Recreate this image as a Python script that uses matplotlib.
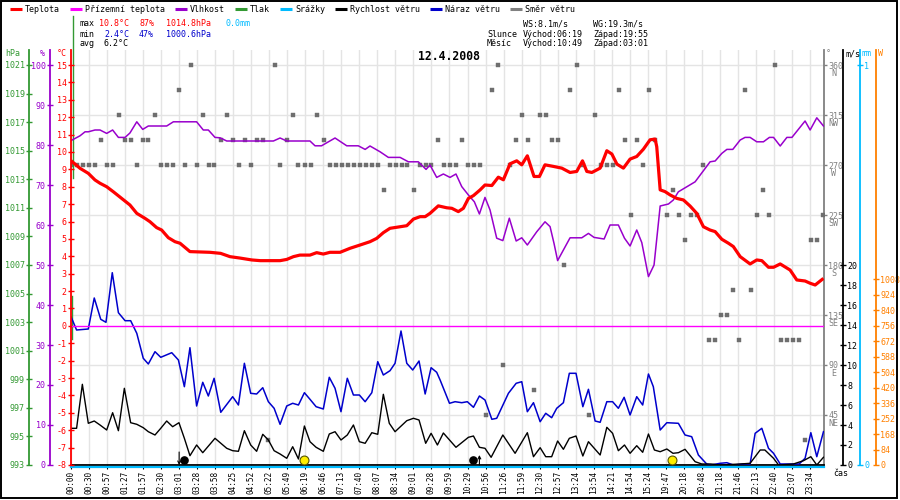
import numpy as np
import matplotlib
matplotlib.use('Agg')
import matplotlib.pyplot as plt
from matplotlib.lines import Line2D
from matplotlib.patches import Rectangle
from matplotlib.transforms import blended_transform_factory, offset_copy, ScaledTranslation

plt.rcParams['font.family'] = ['DejaVu Sans Mono', 'DejaVu Sans']
plt.rcParams['font.size'] = 6

# ---------------- data ----------------
cas_labels = ['00:00', '00:30', '00:57', '01:27', '01:57', '02:30', '03:01', '03:28', '03:58',
              '04:25', '04:52', '05:22', '05:49', '06:19', '06:46', '07:13', '07:40', '08:07',
              '08:34', '09:01', '09:28', '09:59', '10:29', '10:56', '11:26', '11:59', '12:30',
              '12:57', '13:24', '13:54', '14:21', '14:54', '15:24', '19:47', '20:18', '20:48',
              '21:18', '21:46', '22:13', '22:40', '23:07', '23:34']

teplota_x = [0, 0.5, 0.96, 1.33, 1.61, 1.98, 2.35, 2.81, 3.27, 3.65, 4.11, 4.38, 4.75, 5.03, 5.4,
             5.77, 6.05, 6.6, 7.71, 8.3, 8.82, 9.37, 10.03, 10.5, 11.6, 11.97, 12.34, 12.7, 13.26,
             13.63, 14.0, 14.37, 14.93, 15.48, 16.04, 16.59, 16.96, 17.33, 17.7, 18.26, 18.63, 19.0,
             19.37, 19.65, 19.92, 20.38, 20.85, 21.13, 21.49, 21.77, 22.05, 22.33, 22.7, 22.97,
             23.35, 23.71, 23.99, 24.36, 24.73, 25.01, 25.32, 25.69, 25.99, 26.3, 26.76, 27.23,
             27.69, 28.06, 28.38, 28.62, 28.9, 29.36, 29.73, 30.01, 30.29, 30.65, 31.02, 31.39,
             31.76, 32.13, 32.41, 32.5, 32.69, 32.96, 33.24, 33.61, 33.98, 34.35, 34.72, 35.09,
             35.46, 35.74, 36.11, 36.48, 36.75, 37.13, 37.68, 38.05, 38.33, 38.7, 38.98, 39.35,
             39.9, 40.27, 40.73, 41.01, 41.29, 41.75]
teplota = [9.5, 9.06, 8.77, 8.39, 8.2, 8.0, 7.71, 7.33, 6.95, 6.47, 6.18, 5.99, 5.65, 5.51, 5.07,
           4.84, 4.75, 4.27, 4.23, 4.17, 3.98, 3.9, 3.79, 3.75, 3.75, 3.82, 3.98, 4.07, 4.07,
           4.21, 4.13, 4.23, 4.23, 4.46, 4.65, 4.84, 5.03, 5.36, 5.61, 5.7, 5.76, 6.14,
           6.28, 6.28, 6.47, 6.9, 6.79, 6.76, 6.57, 6.76, 7.33, 7.49, 7.82, 8.1,
           8.07, 8.55, 8.4, 9.32, 9.49, 9.26, 9.78, 8.59, 8.59, 9.26, 9.17, 9.07,
           8.82, 8.88, 9.49, 8.88, 8.82, 9.07, 10.07, 9.88, 9.3, 9.07, 9.59, 9.74,
           10.16, 10.7, 10.74, 10.3, 7.82, 7.72, 7.53, 7.33, 7.24, 6.89, 6.47, 5.7,
           5.51, 5.42, 4.98, 4.75, 4.56, 3.98, 3.56, 3.79, 3.75, 3.37, 3.37, 3.56,
           3.21, 2.64, 2.58, 2.45, 2.35, 2.73]

vlhkost_x = [0, 0.5, 0.78, 0.96, 1.33, 1.61, 1.98, 2.31, 2.63, 3.0, 3.27, 3.65, 3.98, 4.29, 5.31,
             5.68, 6.97, 7.34, 7.62, 7.99, 8.27, 8.64, 11.23, 11.6, 11.97, 13.26, 13.54, 13.9,
             14.65, 15.3, 15.94, 16.32, 16.59, 17.15, 17.61, 18.26, 18.72, 19.27, 19.7, 19.92,
             20.29, 20.66, 21.03, 21.36, 21.68, 22.05, 22.38, 22.66, 22.97, 23.25, 23.62, 23.96,
             24.32, 24.7, 25.01, 25.32, 25.84, 26.3, 26.58, 26.8, 27.0, 27.69, 28.34, 28.71,
             29.02, 29.58, 29.91, 30.37, 30.71, 31.02, 31.39, 31.67, 32.04, 32.35, 32.69, 33.15,
             33.42, 33.7, 34.63, 35.46, 35.74, 36.11, 36.39, 36.72, 37.13, 37.4, 37.68, 38.05,
             38.42, 38.75, 38.98, 39.35, 39.72, 40.0, 40.73, 41.01, 41.38, 41.75]
vlhkost = [81.1, 82.3, 83.3, 83.3, 83.75, 83.75, 82.9, 83.75, 81.9, 81.9, 83.0, 85.8, 83.9, 84.75, 84.75,
           85.8, 85.8, 83.75, 83.75, 81.9, 81.8, 81.0, 81.0, 81.75, 81.0, 81.0, 79.8, 79.8,
           81.75, 79.8, 79.8, 78.9, 79.75, 78.3, 76.9, 76.9, 75.8, 75.8, 73.9, 75.0,
           71.9, 72.75, 71.9, 72.75, 69.6, 67.5, 65.8, 62.75, 66.9, 63.75, 56.7, 56.1,
           61.7, 56.0, 56.8, 55.0, 58.3, 60.8, 59.6, 55.4, 51.1, 56.8, 56.8, 57.9,
           56.9, 56.5, 60.0, 60.0, 56.7, 54.75, 58.75, 55.6, 47.1, 50.0, 64.75, 65.25,
           66.25, 68.3, 70.8, 75.8, 76.0, 77.9, 78.9, 78.9, 81.25, 81.9, 81.9, 80.8,
           80.8, 81.9, 81.9, 79.75, 81.9, 81.9, 86.0, 83.75, 86.8, 84.75]

naraz_x = [0, 0.31, 0.96, 1.29, 1.65, 1.94, 2.29, 2.63, 3.0, 3.31, 3.65, 4.01, 4.29, 4.66, 4.98,
           5.59, 5.96, 6.29, 6.6, 6.97, 7.31, 7.62, 7.94, 8.31, 8.97, 9.29, 9.62, 9.97, 10.3,
           10.64, 10.95, 11.27, 11.6, 11.97, 12.3, 12.62, 12.95, 13.26, 13.6, 14.0, 14.33, 14.65,
           14.98, 15.33, 15.67, 16.0, 16.32, 16.69, 17.02, 17.33, 17.7, 17.98, 18.31, 18.63,
           18.96, 19.31, 19.65, 19.98, 20.29, 20.48, 21.0, 21.31, 21.68, 21.99, 22.33, 22.66,
           22.97, 23.35, 23.62, 24.27, 24.7, 25.01, 25.32, 25.66, 26.03, 26.34, 26.67, 26.95,
           27.32, 27.65, 28.02, 28.4, 28.71, 29.08, 29.36, 29.73, 30.05, 30.37, 30.69, 31.02,
           31.39, 31.72, 32.04, 32.31, 32.69, 33.06, 33.7, 34.07, 34.44, 34.81, 35.27, 35.5,
           36.02, 36.39, 36.75, 37.3, 37.68, 37.96, 38.33, 38.7, 38.98, 39.35, 40.08, 40.4,
           40.73, 41.05, 41.38, 41.75]
naraz = [14.83, 13.5, 13.6, 16.7, 14.57, 14.27, 19.23, 15.23, 14.43, 14.43, 13.17, 10.67, 10.1, 11.33, 10.77,
         11.23, 10.5, 7.83, 11.73, 5.9, 8.27, 6.9, 8.67, 5.27, 6.83, 6.0, 10.17, 7.17, 7.1,
         7.73, 6.33, 5.67, 4.07, 5.9, 6.17, 6.0, 7.23, 6.57, 5.83, 5.6, 8.77, 7.67,
         5.33, 8.67, 7.0, 7.0, 6.33, 7.23, 10.33, 9.0, 9.43, 10.17, 13.4, 10.17,
         9.5, 10.4, 7.1, 9.73, 9.27, 8.5, 6.17, 6.33, 6.23, 6.33, 5.77, 6.9,
         6.5, 4.57, 4.67, 7.17, 8.17, 8.33, 5.33, 6.23, 4.33, 5.17, 4.73, 5.67,
         6.23, 9.17, 9.17, 5.83, 7.57, 4.4, 4.27, 6.33, 6.33, 5.67, 6.77, 5.0,
         6.83, 6.0, 9.1, 7.83, 3.5, 4.23, 4.17, 3.0, 2.83, 1.0, 0.1, 0.0,
         0.17, 0.23, 0.0, 0.1, 0.1, 3.17, 3.67, 1.67, 1.17, 0.1, 0.1, 0.1,
         0.67, 3.23, 0.83, 3.33]

rychlost_x = [0, 0.31, 0.63, 0.96, 1.29, 1.61, 1.98, 2.31, 2.63, 2.96, 3.31, 3.65, 4.01, 4.29, 4.66,
              4.98, 5.31, 5.64, 5.99, 6.29, 6.6, 6.97, 7.31, 7.99, 8.64, 8.97, 9.29, 9.62, 9.97,
              10.3, 10.64, 10.95, 11.27, 11.6, 11.97, 12.3, 12.62, 12.95, 13.26, 13.6, 14.0, 14.33,
              14.65, 14.98, 15.33, 15.67, 16.0, 16.32, 16.69, 17.02, 17.33, 17.66, 17.98, 18.63,
              19.0, 19.31, 19.68, 19.98, 20.33, 20.66, 21.36, 22.05, 22.33, 22.66, 22.97, 23.31,
              23.96, 24.64, 25.32, 25.66, 26.03, 26.34, 26.67, 27.0, 27.32, 27.65, 28.02, 28.4,
              28.71, 29.36, 29.73, 30.05, 30.37, 30.71, 31.02, 31.39, 31.72, 32.04, 32.37, 32.69,
              33.06, 33.4, 33.7, 34.07, 34.63, 35.0, 35.5, 36.0, 37.13, 37.68, 38.24, 38.5,
              38.98, 39.26, 40.08, 40.64, 41.05, 41.38, 41.75]
rychlost = [3.67, 3.67, 8.07, 4.17, 4.4, 4.0, 3.5, 5.23, 3.43, 7.67, 4.23, 4.07, 3.73, 3.33, 3.0,
            3.67, 4.4, 3.83, 4.23, 2.67, 0.93, 2.0, 1.23, 2.67, 1.67, 1.43, 1.37, 3.43, 2.0,
            1.37, 3.07, 2.5, 1.43, 1.1, 0.67, 1.83, 0.6, 3.9, 2.33, 1.77, 1.37, 3.1,
            3.33, 2.5, 3.0, 4.0, 2.33, 2.17, 3.23, 3.07, 7.07, 4.17, 3.33, 4.43,
            4.67, 4.5, 2.17, 3.17, 2.0, 3.2, 1.77, 2.77, 2.9, 1.77, 1.67, 0.77,
            3.0, 1.17, 3.23, 0.83, 1.73, 0.83, 0.83, 2.4, 1.57, 2.67, 2.9, 0.9,
            2.33, 1.0, 3.77, 3.17, 1.43, 2.0, 1.17, 1.93, 1.27, 3.1, 1.5, 1.33,
            1.6, 1.17, 1.23, 1.57, 0.33, 0.1, 0.1, 0.0, 0.1, 0.17, 1.5, 1.5,
            0.67, 0.0, 0.1, 0.43, 0.83, 0.0, 0.77]

smer_x = [0.0, 0.35, 0.68, 1.0, 1.33, 1.65, 1.98, 2.31, 2.66, 3.0, 3.31, 3.65, 3.98, 4.29, 4.66,
          4.98, 5.31, 5.64, 5.99, 6.33, 6.66, 6.97, 7.31, 7.64, 7.95, 8.31, 8.64, 8.97, 9.31,
          9.64, 9.97, 10.3, 10.64, 10.95, 11.32, 11.62, 11.97, 12.3, 12.62, 12.97, 13.29, 13.63,
          14.04, 14.37, 14.71, 15.04, 15.37, 15.7, 16.04, 16.37, 16.7, 17.02, 17.37, 17.7,
          18.04, 18.35, 18.67, 19.02, 19.35, 19.68, 19.99, 20.35, 20.68, 21.03, 21.36, 21.69,
          22.05, 22.36, 22.7, 23.0, 23.38, 23.71, 23.99, 24.36, 24.7, 25.03, 25.36, 25.7,
          26.03, 26.36, 26.7, 27.03, 27.36, 27.69, 28.08, 28.4, 28.75, 29.08, 29.39, 29.73,
          30.06, 30.41, 30.75, 31.08, 31.41, 31.74, 32.07, 32.41, 33.06, 33.4, 33.73, 34.07,
          34.41, 34.72, 35.04, 35.4, 35.74, 36.07, 36.4, 36.74, 37.07, 37.4, 37.74, 38.05,
          38.38, 38.73, 39.07, 39.38, 39.72, 40.05, 40.38, 40.73, 41.05, 41.38, 41.75]
smer = [270, 270, 270, 270, 270, 292.5, 270, 270, 315, 292.5, 292.5, 270, 292.5, 292.5, 315,
        270, 270, 270, 337.5, 270, 360, 270, 315, 270, 270, 292.5, 315, 292.5, 270,
        292.5, 270, 292.5, 292.5, 22.5, 360, 270, 292.5, 315, 270, 270, 270, 315,
        292.5, 270, 270, 270, 270, 270, 270, 270, 270, 270, 247.5, 270,
        270, 270, 270, 247.5, 270, 270, 270, 292.5, 270, 270, 270, 292.5,
        270, 270, 270, 45, 337.5, 360, 90, 270, 292.5, 315, 292.5, 67.5,
        315, 315, 292.5, 292.5, 180, 337.5, 360, 270, 45, 315, 270, 270,
        270, 337.5, 292.5, 225, 292.5, 270, 337.5, 292.5, 225, 247.5, 225, 202.5,
        225, 225, 270, 112.5, 112.5, 135, 135, 157.5, 112.5, 337.5, 157.5, 225,
        247.5, 225, 360, 112.5, 112.5, 112.5, 112.5, 22.5, 202.5, 202.5, 225]

tlak_x = [0.09, 0.09, np.nan, 0.04, 0.04]
tlak = [1024.4, 1013.1, np.nan, 1004.8, 1001.8]

prizemni_x = [0.0, 41.78]
prizemni = [0.0, 0.0]
srazky_x = [0.0, 41.78]
srazky = [0.0, 0.0]

slunce_x = [12.94, 33.37]
mesic_x = [6.28, 22.29]
mesic_zapad_x = [6.0]
mesic_vychod_x = [22.66]

dir_ticks = [45, 90, 135, 180, 225, 270, 315, 360]
dir_names = ['NE', 'E', 'SE', 'S', 'SW', 'W', 'NW', 'N']

# ---------------- colours ----------------
RED = '#ff0000'
MAG = '#ff00ff'
PUR = '#9900cc'
GRN = '#339933'
CYA = '#00bbff'
BLU = '#0000cc'
GRY = '#808080'
SQ = '#6e6e6e'
ORA = '#ff8000'
GRID = '#e4e4e4'

W, H = 900, 500
fig = plt.figure(figsize=(9, 5), dpi=100)
fig.patch.set_facecolor('white')


def fx(x):
    return x / W


def fy(y):
    return 1 - y / H


PL, PR, PT, PB = 71, 824, 50, 465
PW = PR - PL
XMAX = 41.78

ax = fig.add_axes([fx(PL), fy(PB), PW / W, (PB - PT) / H])
ax.set_xlim(0, XMAX)
ax.set_ylim(0, 373.5)
ax.set_facecolor('white')
for s in ['left', 'top']:
    ax.spines[s].set_visible(False)
ax.spines['right'].set_color(GRY)
ax.spines['right'].set_linewidth(1.3)
ax.spines['bottom'].set_color('black')
ax.spines['bottom'].set_linewidth(1.3)
ax.set_xticks(np.arange(len(cas_labels)))
ax.set_xticklabels(cas_labels, rotation=90, fontsize=5.6)
ax.tick_params(axis='x', colors='black', direction='out', length=3, width=0.8, pad=1.5)
ax.grid(True, color=GRID, lw=1)
ax.set_axisbelow(True)

# compass names below direction numbers
trans_dir = offset_copy(blended_transform_factory(ax.transAxes, ax.transData), fig=fig,
                        x=9.5, y=-8.5, units='dots')
for t, n in zip(dir_ticks, dir_names):
    ax.text(1.0, t, n, transform=trans_dir, ha='center', va='center', color=GRY, fontsize=6,
            clip_on=False)

# wind direction squares
ax.plot(smer_x, smer, linestyle='none', marker='s', markersize=3.1, color=SQ, mec=SQ,
        mew=0.3, zorder=3)


def twin(ylim, side, off_px, color, ticks, tickdir='inout', ticklen=4):
    a = ax.twinx()
    a.set_ylim(*ylim)
    a.set_xlim(0, XMAX)
    a.patch.set_visible(False)
    for s in a.spines.values():
        s.set_visible(False)
    sp = a.spines[side]
    sp.set_visible(True)
    frac = off_px / PW if side == 'left' else 1 + off_px / PW
    sp.set_position(('axes', frac))
    sp.set_color(color)
    sp.set_linewidth(1.3)
    if side == 'left':
        a.yaxis.tick_left()
    else:
        a.yaxis.tick_right()
    a.set_yticks(ticks)
    a.set_yticklabels([str(t) for t in ticks])
    a.tick_params(axis='y', colors=color, direction=tickdir, length=ticklen, width=1,
                  labelsize=6, pad=1)
    return a


ax_p = twin((993, 993 + 415 / (400 / 28)), 'left', -42, GRN, list(range(993, 1022, 2)))
ax_h = twin((0, 103.75), 'left', -21, PUR, list(range(0, 101, 10)))
ax_sol = twin((0, 415 * 1008 / 186), 'right', 52, ORA, list(range(0, 1009, 84)))
ax_mm = twin((0, 1.0375), 'right', 36, CYA, [0, 1])
ax_w = twin((0, 41.5), 'right', 19, 'black', list(range(0, 21, 2)))
ax_t = twin((-8, 15 + 15 * 23 / 400), 'left', 0, RED, list(range(-8, 16)))

# direction axis on the right (twinx moved it to the left, so set it again)
ax.yaxis.tick_right()
ax.yaxis.set_label_position('right')
ax.set_yticks(dir_ticks)
ax.set_yticklabels([str(t) for t in dir_ticks])
ax.tick_params(axis='y', which='both', left=False, labelleft=False, right=True, labelright=True,
               colors=GRY, direction='out', length=2, width=1, labelsize=6, pad=1)

# humidity
ax_h.plot(vlhkost_x, vlhkost, color=PUR, lw=1.1, zorder=3)

# precipitation zero line (just under the bottom axis)
tr_mm = ax_mm.transData + ScaledTranslation(0, -1.8 / 100, fig.dpi_scale_trans)
ax_mm.plot(srazky_x, srazky, color=CYA, lw=1.6, transform=tr_mm, clip_on=False, zorder=1)

# ground temperature (flat zero)
ax_t.plot(prizemni_x, prizemni, color=MAG, lw=1.0, zorder=2)

# wind
ax_w.plot(naraz_x, naraz, color=BLU, lw=1.1, zorder=3)
ax_w.plot(rychlost_x, rychlost, color='black', lw=1.0, zorder=4)
ax_w.plot(mesic_x, [0.5] * len(mesic_x), linestyle='none', marker='o', markersize=5.2,
          color='black', zorder=6, clip_on=False)
ax_w.plot(slunce_x, [0.5] * len(slunce_x), linestyle='none', marker='o', markersize=6.4,
          color='#ffee00', mec='#555500', mew=0.8, zorder=6, clip_on=False)
for u in mesic_zapad_x:
    ax_w.annotate('', xy=(u, 0), xytext=(u, 1.3),
                  arrowprops=dict(arrowstyle='->', lw=0.8, color='black',
                                  shrinkA=0, shrinkB=0, mutation_scale=5))
for u in mesic_vychod_x:
    ax_w.annotate('', xy=(u, 1.0), xytext=(u, 0),
                  arrowprops=dict(arrowstyle='->', lw=0.8, color='black',
                                  shrinkA=0, shrinkB=0, mutation_scale=5))

# temperature
ax_t.plot(teplota_x, teplota, color=RED, lw=2.3, zorder=5, solid_capstyle='butt')

# pressure (runs out of the plot at the very start)
ax_p.plot(tlak_x, tlak, color=GRN, lw=1.0, clip_on=False, zorder=5)

# ---------------- header texts ----------------
legend_items = [
    (10, 22, 25, RED, 'Teplota'),
    (70, 82, 85, MAG, 'Přízemní teplota'),
    (175, 187, 190, PUR, 'Vlhkost'),
    (235, 247, 250, GRN, 'Tlak'),
    (280, 292, 295, CYA, 'Srážky'),
    (335, 347, 350, 'black', 'Rychlost větru'),
    (430, 442, 445, BLU, 'Náraz větru'),
    (510, 522, 525, GRY, 'Směr větru'),
]
for x0, x1, xt, c, lab in legend_items:
    fig.add_artist(Line2D([fx(x0), fx(x1)], [fy(9), fy(9)], transform=fig.transFigure,
                          color=c, lw=2.2, solid_capstyle='butt'))
    fig.text(fx(xt), fy(9), lab, ha='left', va='center', fontsize=6, color='black')

info = [
    (80, 24, 'max', 'black', 'left'), (129, 24, '10.8°C', RED, 'right'),
    (139, 24, '87%', RED, 'left'), (166, 24, '1014.8hPa', RED, 'left'),
    (226, 24, '0.0mm', CYA, 'left'),
    (80, 34, 'min', 'black', 'left'), (129, 34, '2.4°C', BLU, 'right'),
    (139, 34, '47%', BLU, 'left'), (166, 34, '1000.6hPa', BLU, 'left'),
    (80, 44, 'avg', 'black', 'left'), (129, 44, '6.2°C', 'black', 'right'),
    (523, 24, 'WS:8.1m/s', 'black', 'left'), (593, 24, 'WG:19.3m/s', 'black', 'left'),
    (487, 34, 'Slunce', 'black', 'left'), (523, 34, 'Východ:06:19', 'black', 'left'),
    (593, 34, 'Západ:19:55', 'black', 'left'),
    (487, 44, 'Měsíc', 'black', 'left'), (523, 44, 'Východ:10:49', 'black', 'left'),
    (593, 44, 'Západ:03:01', 'black', 'left'),
]
for x, y, s, c, ha in info:
    fig.text(fx(x), fy(y), s, ha=ha, va='center', fontsize=6, color=c)

fig.text(fx(449), fy(56), '12.4.2008', ha='center', va='center', fontsize=8.3,
         fontweight='bold', color='black')

units = [(5, 'hPa', GRN), (40, '%', PUR), (57, '°C', RED), (826, '°', GRY),
         (845, 'm/s', 'black'), (862, 'mm', CYA), (878, 'W', ORA)]
for x, s, c in units:
    fig.text(fx(x), fy(54), s, ha='left', va='center', fontsize=6, color=c)

fig.text(fx(833), fy(473), 'čas', ha='left', va='center', fontsize=6, color='black')

fig.add_artist(Rectangle((fx(0.5), fy(498)), 896 / W, 497 / H, transform=fig.transFigure,
                         fill=False, ec='black', lw=1.4))

fig.savefig('out.png', dpi=100, facecolor='white')
